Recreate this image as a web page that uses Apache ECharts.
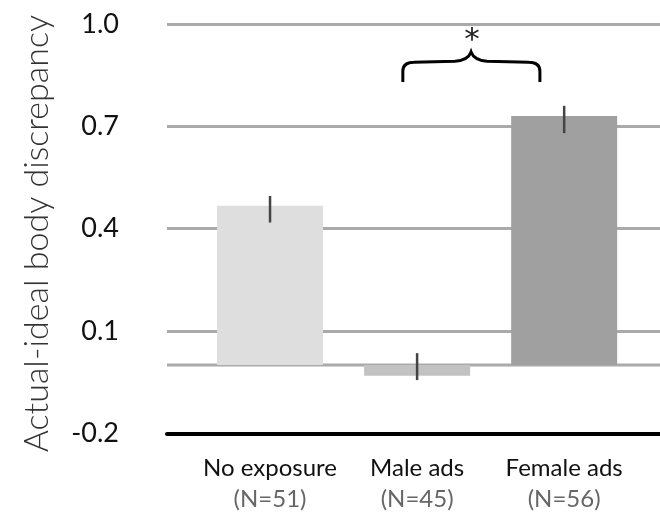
<!DOCTYPE html>
<html>
<head>
<meta charset="utf-8">
<script src="https://cdn.jsdelivr.net/npm/echarts@6/dist/echarts.min.js"></script>
<style>
  html, body { margin: 0; padding: 0; background: #fff; }
  #chart { width: 660px; height: 514px; }
</style>
</head>
<body>
<div id="chart"></div>
<script>
// Body-image discrepancy by ad condition
const categories = ['No exposure', 'Male ads', 'Female ads'];
const sampleSizes = ['(N=51)', '(N=45)', '(N=56)'];
const means = [0.467, -0.031, 0.730];
const errLow = [0.418, -0.044, 0.680];
const errHigh = [0.496, 0.035, 0.760];
const barColors = ['#dedede', '#c2c2c2', '#a0a0a0'];
const yTicks = { min: -0.2, max: 1.0, step: 0.3 };
// significance bracket between Male ads and Female ads, with its star
const sigPair = [1, 2];
const sigMark = '*';

const FONT = 'Lato, "Open Sans", sans-serif';
const chart = echarts.init(document.getElementById('chart'), null, { renderer: 'canvas' });

const gridTop = 24, gridBottom = 80.7;

function renderBrace(params, api) {
  const pA = api.coord([sigPair[0], 0]);
  const pB = api.coord([sigPair[1], 0]);
  const band = pB[0] - pA[0];
  const x0 = pA[0] - 0.097 * band;
  const x1 = pB[0] - 0.165 * band;
  const xm = pA[0] + 0.367 * band;
  const yEnd = api.coord([sigPair[0], 0.83])[1];
  const yArm = api.coord([sigPair[0], 0.888])[1];
  const yPeak = api.coord([sigPair[0], 0.918])[1];
  const yStar = api.coord([sigPair[0], 0.906])[1];
  const r = 9;
  const d =
    'M' + x0 + ' ' + yEnd +
    ' L' + x0 + ' ' + (yArm + r) +
    ' Q' + x0 + ' ' + yArm + ' ' + (x0 + r + 2) + ' ' + yArm +
    ' L' + (xm - 16) + ' ' + (yArm - 1) +
    ' Q' + (xm - 3) + ' ' + (yArm - 2) + ' ' + xm + ' ' + yPeak +
    ' Q' + (xm + 3) + ' ' + (yArm - 2) + ' ' + (xm + 16) + ' ' + (yArm - 1) +
    ' L' + (x1 - r - 2) + ' ' + yArm +
    ' Q' + x1 + ' ' + yArm + ' ' + x1 + ' ' + (yArm + r) +
    ' L' + x1 + ' ' + yEnd;
  return {
    type: 'group',
    children: [
      { type: 'path', shape: { pathData: d }, style: { fill: null, stroke: '#000', lineWidth: 3 } },
      {
        type: 'text', x: xm + 1, y: yStar,
        style: {
          text: sigMark, fontFamily: '"DejaVu Sans", sans-serif', fontSize: 31, fill: '#222',
          align: 'center', verticalAlign: 'bottom'
        }
      }
    ]
  };
}

const option = {
  animation: false,
  grid: [
    { left: 167, right: 0, top: gridTop, bottom: gridBottom },
    { left: 196.5, right: 22.3, top: gridTop, bottom: gridBottom }
  ],
  xAxis: [
    {
      gridIndex: 0, type: 'value', min: 0, max: 1,
      axisLine: { show: true, onZero: false, lineStyle: { color: '#000', width: 4 } },
      axisTick: { show: false }, axisLabel: { show: false }, splitLine: { show: false }
    },
    {
      gridIndex: 1, type: 'category', data: categories,
      axisLine: { show: false }, axisTick: { show: false }, splitLine: { show: false },
      axisLabel: {
        margin: 19,
        formatter: (v, i) => '{a|' + v + '}\n{b|' + sampleSizes[i] + '}',
        rich: {
          a: { fontFamily: FONT, fontSize: 24, color: '#111', lineHeight: 31 },
          b: { fontFamily: FONT, fontSize: 24, color: '#666', lineHeight: 31 }
        }
      }
    }
  ],
  yAxis: [
    {
      gridIndex: 0, type: 'value', min: yTicks.min, max: yTicks.max, interval: yTicks.step,
      axisLine: { show: false }, axisTick: { show: false },
      axisLabel: {
        margin: 48, fontFamily: FONT, fontSize: 27, color: '#111',
        formatter: v => v.toFixed(1)
      },
      splitLine: { show: true, lineStyle: { color: '#aaaaaa', width: 3 } },
      name: 'Actual-ideal body discrepancy',
      nameLocation: 'middle',
      nameGap: 113,
      nameTextStyle: { fontFamily: FONT, fontWeight: 300, fontSize: 34, color: '#333', padding: [0, 10, 0, 0] }
    },
    {
      gridIndex: 1, type: 'value', min: yTicks.min, max: yTicks.max, interval: yTicks.step,
      show: false
    }
  ],
  series: [
    {
      // zero reference line
      type: 'line', xAxisIndex: 0, yAxisIndex: 0, z: 1,
      data: [[0, 0], [1, 0]], symbol: 'none', silent: true,
      lineStyle: { color: '#aaaaaa', width: 3 }
    },
    {
      type: 'bar', xAxisIndex: 1, yAxisIndex: 1, z: 2,
      barWidth: 106,
      data: means.map((v, i) => ({ value: v, itemStyle: { color: barColors[i] } }))
    },
    {
      type: 'custom', xAxisIndex: 1, yAxisIndex: 1, z: 4,
      data: categories.map((c, i) => [i, errLow[i], errHigh[i]]),
      renderItem: (params, api) => {
        const lo = api.coord([api.value(0), api.value(1)]);
        const hi = api.coord([api.value(0), api.value(2)]);
        return {
          type: 'line',
          shape: { x1: lo[0], y1: lo[1], x2: hi[0], y2: hi[1] },
          style: { stroke: '#444', lineWidth: 2.5 }
        };
      }
    },
    {
      type: 'custom', xAxisIndex: 1, yAxisIndex: 1, z: 5, silent: true,
      data: [[sigPair[0], 0]],
      renderItem: renderBrace
    }
  ]
};
chart.setOption(option);
</script>
</body>
</html>
